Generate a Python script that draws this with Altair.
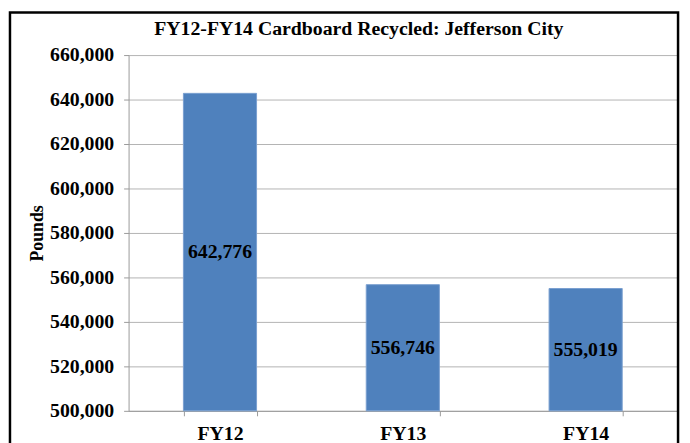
import altair as alt
import pandas as pd

categories = ["FY12", "FY13", "FY14"]
pounds = [642776, 556746, 555019]
labels = ["642,776", "556,746", "555,019"]
title_text = ["FY12-FY14 Cardboard Recycled:  Jefferson City"]
y_min = 500000
y_max = 660000

df = pd.DataFrame({"year": categories, "pounds": pounds, "label": labels})

SERIF = "Liberation Serif"

base = alt.Chart(df)

x_enc = alt.X(
    "year:N",
    sort=categories,
    scale=alt.Scale(paddingInner=0.6, paddingOuter=0.3),
    axis=alt.Axis(
        title=None,
        labelAngle=0,
        grid=False,
        tickBand="extent",
        tickSize=5,
        labelPadding=8,
        labelFont=SERIF,
        labelFontWeight="bold",
        labelFontSize=20,
        labelColor="black",
        domainColor="#999999",
        tickColor="#999999",
    ),
)

bars = base.mark_bar(color="#4F81BD", stroke="#7A9FD0", strokeWidth=1).encode(
    x=x_enc,
    y=alt.Y(
        "pounds:Q",
        scale=alt.Scale(domain=[y_min, y_max], zero=False, nice=False),
        axis=alt.Axis(
            title="Pounds",
            values=list(range(y_min, y_max + 1, 20000)),
            format=",d",
            tickSize=5,
            labelPadding=10,
            labelFont=SERIF,
            labelFontWeight="bold",
            labelFontSize=20,
            labelColor="black",
            titleFont=SERIF,
            titleFontWeight="bold",
            titleFontSize=18,
            titleColor="black",
            titlePadding=3,
            gridColor="#b3b3b3",
            domainColor="#999999",
            tickColor="#999999",
        ),
    ),
    y2=alt.datum(y_min),
)

text = base.transform_calculate(
    mid=f"(datum.pounds + {y_min}) / 2"
).mark_text(
    font=SERIF, fontWeight="bold", fontSize=20, color="black", baseline="middle"
).encode(
    x=alt.X("year:N", sort=categories),
    y=alt.Y("mid:Q"),
    text="label:N",
)

frame = alt.Chart(pd.DataFrame({"k": [0]})).mark_rect(
    fill=None, stroke="black", strokeWidth=2.5
).encode(
    x=alt.value(-120),
    x2=alt.value(556),
    y=alt.value(-43),
    y2=alt.value(420),
)

title = alt.Chart(pd.DataFrame({"t": title_text})).mark_text(
    font=SERIF, fontWeight="bold", fontSize=20, color="black",
    baseline="middle", align="center",
).encode(
    x=alt.value(233),
    y=alt.value(-26),
    text="t:N",
)

chart = alt.layer(bars, text, frame, title).properties(
    width=555,
    height=360,
    padding={"left": 122, "top": 45, "right": 5, "bottom": 38},
    autosize=alt.AutoSizeParams(type="none"),
).configure_view(stroke=None)

chart.save("out.html", embed_options={"renderer": "svg", "actions": False})
